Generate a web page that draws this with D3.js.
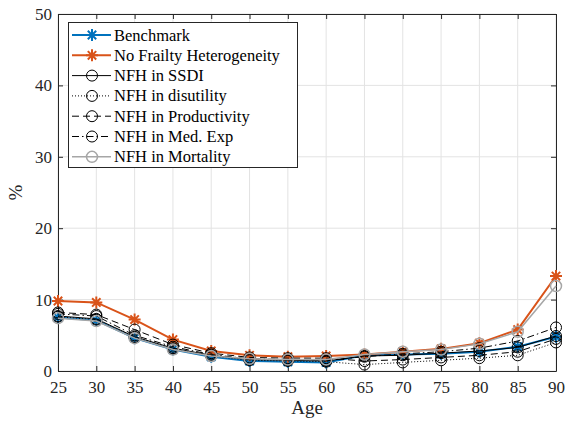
<!DOCTYPE html>
<html><head><meta charset="utf-8">
<script src="https://cdn.jsdelivr.net/npm/d3@7"></script>
<style>body{margin:0;background:#fff}svg{display:block}</style>
</head><body>
<svg id="c" width="567" height="425"></svg>
<script>
const ages = [25,30,35,40,45,50,55,60,65,70,75,80,85,90];
const benchmark   = [7.5,7.1,4.6,3.0,2.0,1.4,1.3,1.2,2.2,2.3,2.4,2.7,3.4,4.8];
const noFrailty   = [9.8,9.6,7.2,4.4,2.8,2.2,2.0,2.1,2.3,2.7,3.1,3.9,5.8,13.3];
const nfhSSDI     = [7.7,7.3,4.8,3.2,2.2,1.6,1.5,1.4,2.1,2.2,2.5,2.8,3.3,4.9];
const nfhDisutil  = [7.6,7.2,4.7,3.1,2.1,1.5,1.4,1.3,0.9,1.2,1.5,1.8,2.2,4.0];
const nfhProd     = [8.2,7.9,5.8,3.7,2.5,1.9,1.8,1.8,1.4,1.6,1.9,2.2,2.7,4.5];
const nfhMedExp   = [8.0,7.7,5.0,3.4,2.3,1.7,1.6,1.5,2.0,2.4,2.7,3.2,4.2,6.1];
const nfhMort     = [7.4,7.0,4.6,3.0,2.1,1.7,1.6,1.6,2.3,2.7,3.0,3.8,5.5,11.9];
const seriesNames = ["Benchmark","No Frailty Heterogeneity","NFH in SSDI","NFH in disutility","NFH in Productivity","NFH in Med. Exp","NFH in Mortality"];
const xTicks = [25,30,35,40,45,50,55,60,65,70,75,80,85,90];
const yTicks = [0,10,20,30,40,50];

const FONT = "Liberation Serif";
const styles = [
  {color:"#0072BD", w:2, dash:null, marker:"star"},
  {color:"#D95319", w:2, dash:null, marker:"star"},
  {color:"#000000", w:1, dash:null, marker:"circle"},
  {color:"#000000", w:1, dash:"1,2", marker:"circle"},
  {color:"#000000", w:1, dash:"7,4", marker:"circle"},
  {color:"#000000", w:1, dash:"7,3,1.5,3", marker:"circle"},
  {color:"#A6A6A6", w:1.5, dash:null, marker:"circle"}
];
const data = [benchmark,noFrailty,nfhSSDI,nfhDisutil,nfhProd,nfhMedExp,nfhMort];

const svg = d3.select("#c");
const L=58,R=556,T=14,B=371;
const x = d3.scaleLinear().domain([25,90]).range([L,R]);
const y = d3.scaleLinear().domain([0,50]).range([B,T]);

const g = svg.append("g");
g.selectAll(".gx").data(xTicks).join("line").attr("x1",d=>x(d)).attr("x2",d=>x(d)).attr("y1",T).attr("y2",B).attr("stroke","#e3e3e3").attr("stroke-width",1);
g.selectAll(".gy").data(yTicks).join("line").attr("y1",d=>y(d)).attr("y2",d=>y(d)).attr("x1",L).attr("x2",R).attr("stroke","#e3e3e3").attr("stroke-width",1);

const xa = svg.append("g").attr("transform",`translate(0,${B})`).call(d3.axisBottom(x).tickValues(xTicks).tickSizeInner(-5).tickSizeOuter(0).tickPadding(10));
const xaT = svg.append("g").attr("transform",`translate(0,${T})`).call(d3.axisTop(x).tickValues(xTicks).tickSizeInner(-5).tickSizeOuter(0).tickFormat(""));
const ya = svg.append("g").attr("transform",`translate(${L},0)`).call(d3.axisLeft(y).tickValues(yTicks).tickSizeInner(-5).tickSizeOuter(0).tickPadding(6));
const yaR = svg.append("g").attr("transform",`translate(${R},0)`).call(d3.axisRight(y).tickValues(yTicks).tickSizeInner(-5).tickSizeOuter(0).tickFormat(""));
[xa,xaT,ya,yaR].forEach(a=>{a.attr("font-family",FONT).attr("font-size",17);a.select(".domain").attr("stroke","#262626").attr("stroke-width",1);a.selectAll(".tick line").attr("stroke","#262626");a.selectAll("text").attr("fill","#262626");});

function starPath(s){const a=s*0.7;return `M${-s},0L${s},0M0,${-s}L0,${s}M${-a},${-a}L${a},${a}M${-a},${a}L${a},${-a}`;}
function drawMarker(sel,st,cx,cy){
  if(st.marker==="star"){
    sel.append("path").attr("d",starPath(6)).attr("transform",`translate(${cx},${cy})`).attr("stroke",st.color).attr("stroke-width",2).attr("fill","none");
  } else {
    sel.append("circle").attr("cx",cx).attr("cy",cy).attr("r",5.5).attr("stroke",st.color).attr("stroke-width",st.w).attr("fill","none");
  }
}
const line = d3.line().x((d,i)=>x(ages[i])).y(d=>y(d));
const plot = svg.append("g");
data.forEach((vals,k)=>{
  const st=styles[k];
  const gg=plot.append("g");
  gg.append("path").attr("d",line(vals)).attr("fill","none").attr("stroke",st.color).attr("stroke-width",st.w).attr("stroke-dasharray",st.dash);
  vals.forEach((v,i)=>drawMarker(gg,st,x(ages[i]),y(v)));
});

svg.append("text").attr("x",(L+R)/2).attr("y",414).attr("text-anchor","middle").attr("font-family",FONT).attr("font-size",19).attr("fill","#262626").text("Age");
svg.append("text").attr("transform",`translate(22,${(T+B)/2}) rotate(-90)`).attr("text-anchor","middle").attr("font-family",FONT).attr("font-size",19).attr("fill","#262626").text("%");

const lg = svg.append("g").attr("font-family",FONT);
lg.append("rect").attr("x",68.5).attr("y",22.5).attr("width",229).attr("height",145).attr("fill","#fff").attr("stroke","#262626").attr("stroke-width",1);
seriesNames.forEach((n,k)=>{
  const st=styles[k]; const cy=35+k*20.3;
  lg.append("line").attr("x1",72).attr("x2",111).attr("y1",cy).attr("y2",cy).attr("stroke",st.color).attr("stroke-width",st.w).attr("stroke-dasharray",st.dash);
  drawMarker(lg,st,92,cy);
  lg.append("text").attr("x",114).attr("y",cy+5.5).attr("font-size",16.5).attr("fill","#000").text(n);
});
</script>
</body></html>
